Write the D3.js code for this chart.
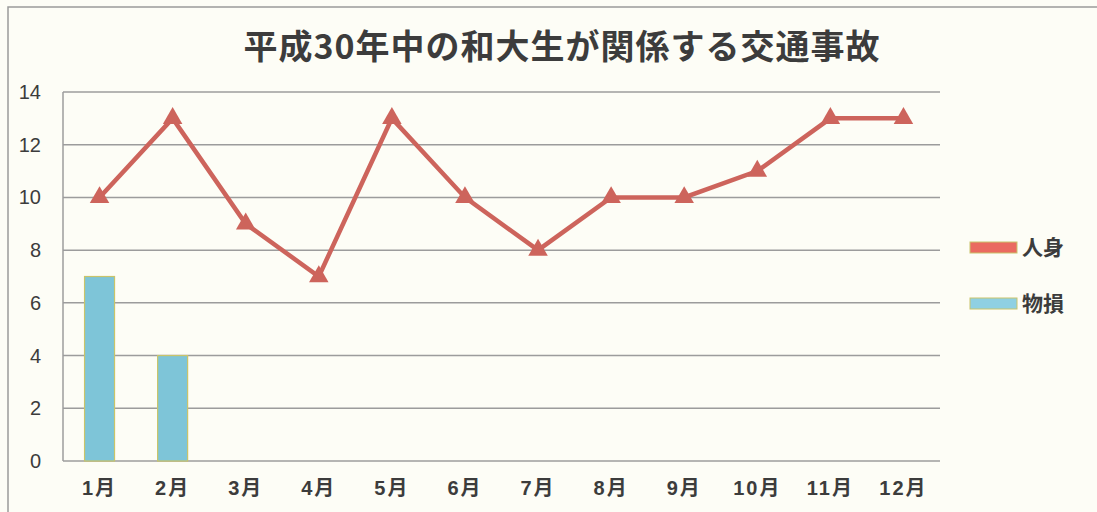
<!DOCTYPE html>
<html>
<head>
<meta charset="utf-8">
<script src="https://cdn.jsdelivr.net/npm/d3@7"></script>
<style>
  body { margin: 0; background: #fdfdf6; }
  text { font-family: "Noto Sans CJK JP", "Noto Sans", sans-serif; fill: #3c3c3c; }
  .num { font-family: "Liberation Sans", "Noto Sans CJK JP", sans-serif; }
</style>
</head>
<body>
<script>
        // chart data
        var months = ["1月","2月","3月","4月","5月","6月","7月","8月","9月","10月","11月","12月"]
        var jinshin = [10,13,9,7,13,10,8,10,10,11,13,13]   // 人身 (line)
        var butson = [7,4,0,0,0,0,0,0,0,0,0,0]             // 物損 (bars)
        var yTicks = [0,2,4,6,8,10,12,14]
        var seriesNames = ["人身","物損"]

        var width = 1097
        var height = 512

        var svg = d3.select("body")
            .append("svg")
            .attr("width", width)
            .attr("height", height)

        // outer frame of the chart
        svg.append("rect")
            .attr("x", 8).attr("y", 7)
            .attr("width", width + 10).attr("height", height + 10)
            .attr("fill", "#fdfdf6")
            .attr("stroke", "#9a9a9a")
            .attr("stroke-width", 1.5)

        var pLeft = 63, pRight = 940, pTop = 92, pBottom = 461

        var x = d3.scaleBand().domain(months).range([pLeft, pRight])
        var y = d3.scaleLinear().domain([0, 14]).range([pBottom, pTop])

        // gridlines
        svg.selectAll(".grid")
            .data(yTicks)
            .enter()
            .append("line")
            .attr("x1", pLeft).attr("x2", pRight)
            .attr("y1", function(d){ return y(d) })
            .attr("y2", function(d){ return y(d) })
            .attr("stroke", "#9c9c9c")
            .attr("stroke-width", 1.5)

        // vertical axis line
        svg.append("line")
            .attr("x1", pLeft).attr("x2", pLeft)
            .attr("y1", pTop).attr("y2", pBottom)
            .attr("stroke", "#9c9c9c")
            .attr("stroke-width", 1.5)

        // y labels
        svg.selectAll(".ylab")
            .data(yTicks)
            .enter()
            .append("text")
            .attr("class", "num")
            .attr("x", 41)
            .attr("y", function(d){ return y(d) + 7 })
            .attr("text-anchor", "end")
            .attr("font-size", 20)
            .text(function(d){ return d })

        // x labels
        svg.selectAll(".xlab")
            .data(months)
            .enter()
            .append("text")
            .attr("class", "num")
            .attr("x", function(d){ return x(d) + x.bandwidth()/2 })
            .attr("y", 495)
            .attr("text-anchor", "middle")
            .attr("font-size", 20)
            .attr("font-weight", "bold")
            .attr("letter-spacing", 2)
            .text(function(d){ return d })

        // bars
        var barW = 30
        svg.selectAll(".bar")
            .data(months.filter(function(d,i){ return butson[i] > 0 }))
            .enter()
            .append("rect")
            .attr("x", function(d){ return x(d) + x.bandwidth()/2 - barW/2 })
            .attr("y", function(d){ return y(butson[months.indexOf(d)]) })
            .attr("width", barW)
            .attr("height", function(d){ return pBottom - y(butson[months.indexOf(d)]) })
            .attr("fill", "#7ec5d8")
            .attr("stroke", "#c9c46a")
            .attr("stroke-width", 1.2)

        // line
        var line = d3.line()
            .x(function(d,i){ return x(months[i]) + x.bandwidth()/2 })
            .y(function(d){ return y(d) })

        svg.append("path")
            .attr("d", line(jinshin))
            .attr("fill", "none")
            .attr("stroke", "#cd645c")
            .attr("stroke-width", 4.5)

        var tri = d3.symbol().type(d3.symbolTriangle).size(165)
        svg.selectAll(".marker")
            .data(jinshin)
            .enter()
            .append("path")
            .attr("d", tri)
            .attr("transform", function(d,i){
                return "translate(" + (x(months[i]) + x.bandwidth()/2) + "," + y(d) + ")"
            })
            .attr("fill", "#cd645c")

        // title
        svg.append("text")
            .attr("x", 562)
            .attr("y", 59)
            .attr("text-anchor", "middle")
            .attr("font-size", 34)
            .attr("font-weight", "bold")
            .attr("letter-spacing", 1)
            .text("平成30年中の和大生が関係する交通事故")

        // legend
        var legColors = ["#ea6a60", "#8fd0e2"]
        var legend = svg.selectAll(".leg")
            .data(seriesNames)
            .enter()
            .append("g")
            .attr("transform", function(d,i){ return "translate(970," + (242 + i*56) + ")" })

        legend.append("rect")
            .attr("width", 47).attr("height", 11)
            .attr("fill", function(d,i){ return legColors[i] })
            .attr("stroke", "#c9c46a")
            .attr("stroke-width", 1)

        legend.append("text")
            .attr("x", 52)
            .attr("y", 13)
            .attr("font-size", 21)
            .attr("font-weight", "bold")
            .text(function(d){ return d })
</script>
</body>
</html>
